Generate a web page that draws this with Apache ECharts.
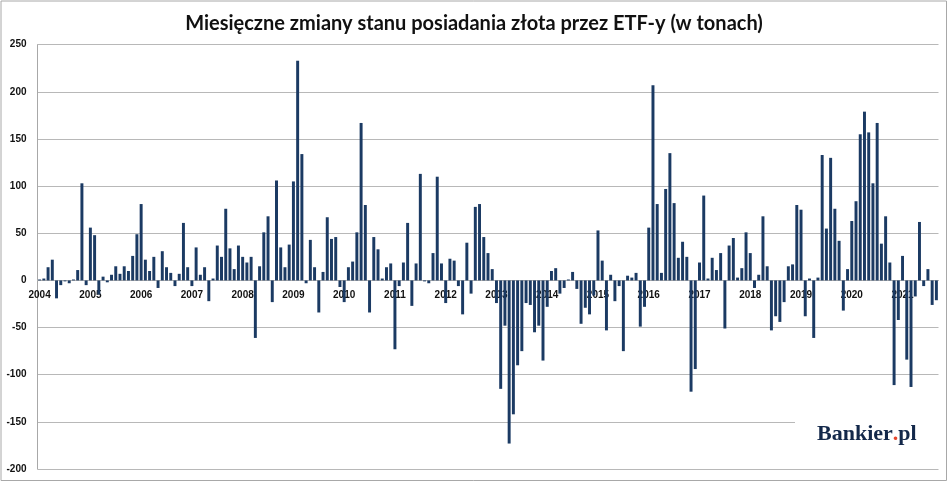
<!DOCTYPE html>
<html>
<head>
<meta charset="utf-8">
<script src="https://cdn.jsdelivr.net/npm/echarts@6/dist/echarts.min.js"></script>
<style>
html,body{margin:0;padding:0;background:#fff;}
#chart{width:948px;height:482px;}
</style>
</head>
<body>
<div id="chart"></div>
<script>
// Monthly change of gold holdings by ETFs (tonnes), Jan 2004 - Sep 2021
const years = ['2004','2005','2006','2007','2008','2009','2010','2011','2012','2013','2014','2015','2016','2017','2018','2019','2020','2021'];
const v2004 = [1, 2, 14, 22, -19, -5, -1, -3, 1, 11, 103, -5];
const v2005 = [56, 48, -15, 4, -2, 6, 15, 7, 15, 10, 26, 49];
const v2006 = [81, 22, 10, 25, -8, 31, 14, 8, -6, 7, 61, 14];
const v2007 = [-6, 35, 6, 14, -22, 2, 37, 25, 76, 34, 12, 37];
const v2008 = [25, 19, 25, -61, 15, 51, 68, -23, 106, 35, 14, 38];
const v2009 = [105, 233, 134, -3, 43, 14, -34, 9, 67, 44, 46, -7];
const v2010 = [-23, 14, 20, 51, 167, 80, -34, 46, 33, 2, 14, 18];
const v2011 = [-73, -6, 19, 61, -27, 18, 113, -1, -3, 29, 110, 18];
const v2012 = [-24, 23, 21, -6, -36, 40, -14, 78, 81, 46, 29, 12];
const v2013 = [-24, -115, -48, -173, -142, -90, -75, -24, -26, -55, -48, -85];
const v2014 = [-28, 10, 13, -14, -8, 1, 9, -9, -46, -29, -36, -16];
const v2015 = [53, 21, -53, 6, -22, -6, -75, 5, 3, 8, -49, -28];
const v2016 = [56, 207, 81, 8, 97, 135, 82, 24, 41, 25, -118, -94];
const v2017 = [19, 90, 2, 24, 11, 29, -51, 37, 45, 3, 13, 51];
const v2018 = [29, -8, 6, 68, 15, -53, -38, -44, -23, 15, 17, 80];
const v2019 = [75, -38, 2, -61, 3, 133, 55, 130, 76, 42, -32, 12];
const v2020 = [63, 84, 155, 179, 157, 103, 167, 39, 68, 19, -111, -42];
const v2021 = [26, -84, -113, -17, 62, -6, 12, -26, -21];
const yearValues = [v2004, v2005, v2006, v2007, v2008, v2009, v2010, v2011, v2012, v2013, v2014, v2015, v2016, v2017, v2018, v2019, v2020, v2021];
const yTicks = [-200, -150, -100, -50, 0, 50, 100, 150, 200, 250];

const title = 'Miesięczne zmiany stanu posiadania złota przez ETF-y (w tonach)';

const categories = [];
const values = [];
yearValues.forEach((arr, yi) => {
  arr.forEach((v, m) => {
    categories.push(years[yi] + '-' + String(m + 1).padStart(2, '0'));
    values.push(v);
  });
});

const gridTop = 44.7, gridHeight = 424.3;
const yMin = yTicks[0], yMax = yTicks[yTicks.length - 1];
// distance from the bottom of the plot to the zero line, so the category axis sits on zero
const zeroOffset = gridHeight * (0 - yMin) / (yMax - yMin);

const chart = echarts.init(document.getElementById('chart'), null, {renderer: 'canvas'});
chart.setOption({
  animation: false,
  backgroundColor: '#ffffff',
  title: {
    text: title,
    left: 'center',
    top: 9,
    textStyle: {fontFamily: 'Lato', fontWeight: 'bold', fontSize: 20, color: '#111'}
  },
  grid: {left: 37.5, top: gridTop, width: 901, height: gridHeight, containLabel: false},
  xAxis: {
    type: 'category',
    data: categories,
    offset: -zeroOffset,
    axisLine: {show: true, onZero: false, lineStyle: {color: '#b5b5b5', width: 1}},
    axisTick: {show: false},
    axisLabel: {
      interval: (idx, val) => val.endsWith('-01'),
      formatter: v => v.slice(0, 4),
      margin: 10,
      fontFamily: 'Liberation Sans',
      fontWeight: 'bold',
      fontSize: 10,
      color: '#111'
    },
    splitLine: {show: false}
  },
  yAxis: {
    type: 'value',
    min: yMin,
    max: yMax,
    interval: 50,
    axisLine: {show: true, lineStyle: {color: '#a8a8a8', width: 1}},
    axisTick: {show: false},
    axisLabel: {
      margin: 11,
      fontFamily: 'Liberation Sans',
      fontWeight: 'bold',
      fontSize: 10,
      color: '#111'
    },
    splitLine: {show: true, lineStyle: {color: '#b8b8b8', width: 1}}
  },
  series: [{
    type: 'bar',
    data: values,
    barCategoryGap: '30%',
    itemStyle: {color: '#1b3a63'},
    z: 2
  }],
  graphic: [
    {
      type: 'rect', z: 100, silent: true,
      shape: {x: 795, y: 410, width: 146, height: 55},
      style: {fill: '#ffffff'}
    },
    {
      type: 'text', z: 101, silent: true,
      left: 817, top: 423,
      style: {
        text: '{b|Bankier}{d|.}{b|pl}',
        rich: {
          b: {fontFamily: 'Liberation Serif', fontWeight: 'bold', fontSize: 22, fill: '#13284a'},
          d: {fontFamily: 'Liberation Serif', fontWeight: 'bold', fontSize: 22, fill: '#e5452b'}
        }
      }
    },
    {
      type: 'rect', z: 102, silent: true,
      shape: {x: 1, y: 1, width: 945.5, height: 479.5},
      style: {fill: 'none', stroke: '#a8a8a8', lineWidth: 1}
    }
  ]
});
</script>
</body>
</html>
